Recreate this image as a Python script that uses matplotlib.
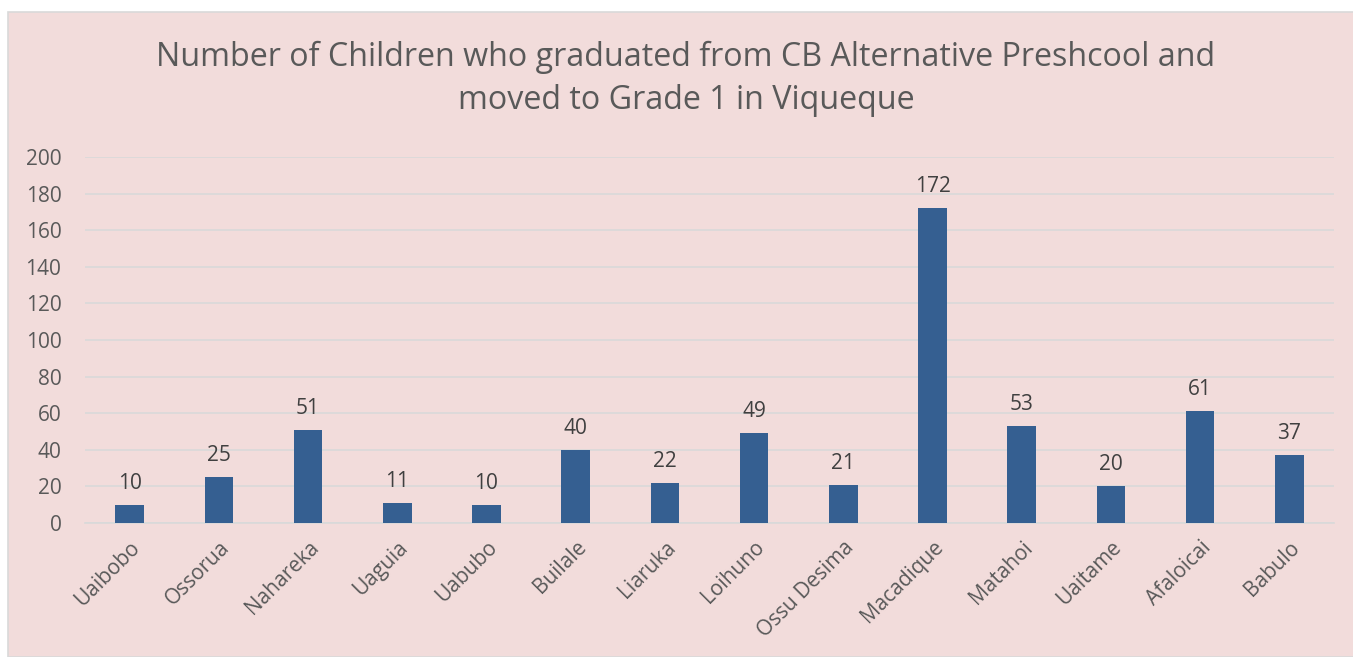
import matplotlib.pyplot as plt
from matplotlib.patches import Rectangle
from matplotlib.transforms import ScaledTranslation

villages = ["Uaibobo", "Ossorua", "Nahareka", "Uaguia", "Uabubo", "Builale", "Liaruka",
            "Loihuno", "Ossu Desima", "Macadique", "Matahoi", "Uaitame", "Afaloicai", "Babulo"]
children = [10, 25, 51, 11, 10, 40, 22, 49, 21, 172, 53, 20, 61, 37]
y_ticks = [0, 20, 40, 60, 80, 100, 120, 140, 160, 180, 200]

bg = "#F2DCDB"
txt = "#595959"
plt.rcParams["font.family"] = ["Open Sans", "DejaVu Sans"]

fig = plt.figure(figsize=(13.53, 6.57), dpi=100, facecolor="white")
W, H = 1353, 657
fig.patches.append(Rectangle((8 / W, 0), 1, 1 - 12 / H, transform=fig.transFigure,
                             facecolor=bg, edgecolor="#D9D9D9", linewidth=1.2, zorder=-1))

ax = fig.add_axes([85 / W, 1 - 523 / H, (1334 - 85) / W, (523 - 157) / H])
ax.set_facecolor("none")
ax.set_zorder(2)

x = range(len(villages))
bars = ax.bar(x, children, width=0.32, color="#355F91", zorder=3)
for xi, v in zip(x, children):
    ax.text(xi, v + 6, str(v), ha="center", va="bottom", fontsize=15, color="#404040")

ax.set_ylim(0, 200)
ax.set_xlim(-0.5, len(villages) - 0.5)
ax.set_yticks(y_ticks)
ax.yaxis.grid(True, color="#D9D9D9", linewidth=1.2, zorder=0)
ax.set_axisbelow(True)
ax.set_xticks(list(x))
ax.set_xticklabels(villages, rotation=45, ha="right", rotation_mode="anchor", fontsize=15, color=txt)
off = ScaledTranslation(10 / 100, 0, fig.dpi_scale_trans)
for lbl in ax.get_xticklabels():
    lbl.set_transform(lbl.get_transform() + off)
ax.tick_params(axis="y", labelsize=15, labelcolor=txt, length=0, pad=17)
ax.tick_params(axis="x", length=0, pad=10)
for s in ["top", "right", "left"]:
    ax.spines[s].set_visible(False)
ax.spines["bottom"].set_color("#D9D9D9")
ax.spines["bottom"].set_linewidth(1.2)

fig.text(686 / W, 1 - 79 / H,
         "Number of Children who graduated from CB Alternative Preshcool and\nmoved to Grade 1 in Viqueque",
         ha="center", va="center", fontsize=23.2, color=txt, linespacing=1.4)

fig.savefig("out.png", dpi=100, facecolor=fig.get_facecolor())
